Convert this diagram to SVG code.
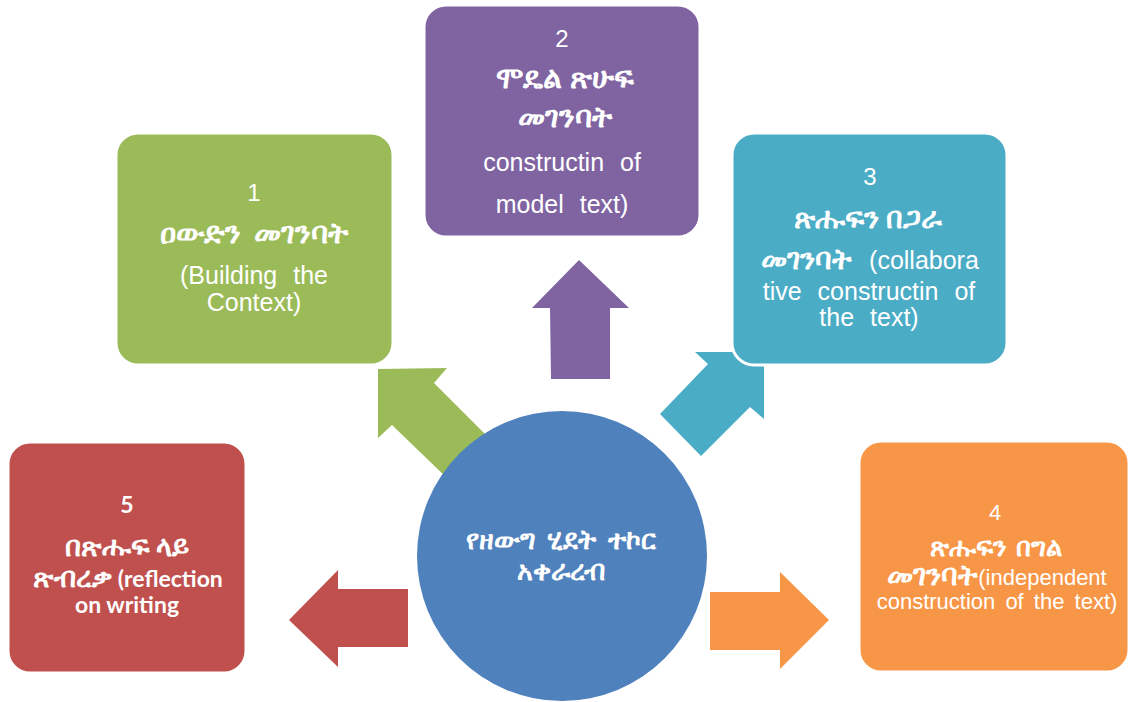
<svg xmlns="http://www.w3.org/2000/svg" width="1128" height="702" viewBox="0 0 1128 702">
<style>
.box{stroke:#FFFFFF;stroke-width:3}
.t{fill:#FFFFFF;text-anchor:middle;font-family:"Liberation Sans",Arial,sans-serif}
.num{font-size:24px}
.eth{font-family:Lato,"Noto Sans",sans-serif;font-size:29px;font-weight:bold}
.e{font-family:Lato,"Noto Sans",sans-serif;font-weight:bold}
.en{font-size:25px;word-spacing:9px}
.en4{font-size:22px;word-spacing:4px}
.c5{font-family:Lato,"Open Sans",sans-serif;font-weight:bold;font-size:23px}
</style>
<rect width="1128" height="702" fill="#FFFFFF"/>
<g id="connectors">
<polygon points="579,260 629,308 610,308 610,379 551,379 550,308 532,308" fill="#8064A2"/>
<polygon points="378,369 447,368 434,383 490,439 449,480 392,425 378,438" fill="#9BBB59"/>
<polygon points="764,352 764,419 750,407 701,456 660,414 708,364 695,352" fill="#4BACC6"/>
<polygon points="289,620 338,570 338,589 408,589 408,647 338,647 338,667" fill="#C0504D"/>
<polygon points="710,592 780,592 780,572 829,620 780,669 780,650 710,650" fill="#F79646"/>
</g>
<g id="center">
<circle cx="562" cy="556" r="145" fill="#4F81BD"/>
<text class="t eth" x="561" y="549" style="font-size:27px;word-spacing:5px">የዘውግ ሂደት ተኮር</text>
<text class="t eth" x="561" y="580" style="font-size:27px">አቀራረብ</text>
</g>
<g id="node1">
<rect class="box" x="116" y="133" width="277" height="232" rx="22" fill="#9BBB59"/>
<text class="t num" x="254" y="201">1</text>
<text class="t eth" x="254" y="243" style="font-size:30px;word-spacing:6px">ዐውድን መገንባት</text>
<text class="t en" x="254" y="284">(Building the</text>
<text class="t en" x="254" y="311">Context)</text>
</g>
<g id="node2">
<rect class="box" x="424" y="5" width="276" height="232" rx="22" fill="#8064A2"/>
<text class="t num" x="562" y="47">2</text>
<text class="t eth" x="565" y="88" style="font-size:30px">ሞዴል ጽሁፍ</text>
<text class="t eth" x="565" y="127" style="font-size:30px">መገንባት</text>
<text class="t en" x="562" y="171">constructin of</text>
<text class="t en" x="562" y="213">model text)</text>
</g>
<g id="node3">
<rect class="box" x="732" y="133" width="275" height="232" rx="22" fill="#4BACC6"/>
<text class="t num" x="870" y="185">3</text>
<text class="t eth" x="868" y="228">ጽሑፍን በጋራ</text>
<text class="t en" x="870" y="269" style="word-spacing:10px"><tspan class="e" style="font-size:29px">መገንባት</tspan> (collabora</text>
<text class="t en" x="869" y="300">tive constructin of</text>
<text class="t en" x="869" y="326">the text)</text>
</g>
<g id="node4">
<rect class="box" x="859" y="441" width="270" height="231" rx="22" fill="#F79646"/>
<text class="t num" x="995" y="520" style="font-size:22px">4</text>
<text class="t eth" x="996" y="556" style="font-size:26px;word-spacing:3px">ጽሑፍን በግል</text>
<text class="t en4" x="997" y="585"><tspan class="e" style="font-size:29px">መገንባት</tspan>(independent</text>
<text class="t en4" x="997" y="609">construction of the text)</text>
</g>
<g id="node5">
<rect class="box" x="8" y="442" width="238" height="231" rx="22" fill="#C0504D"/>
<text class="t c5" x="127" y="513">5</text>
<text class="t c5" x="127" y="556" style="font-size:28px">በጽሑፍ ላይ</text>
<text class="t c5" x="128" y="587"><tspan style="font-size:28px">ጽብረቃ</tspan> (reflection</text>
<text class="t c5" x="127" y="613">on writing</text>
</g>
</svg>
